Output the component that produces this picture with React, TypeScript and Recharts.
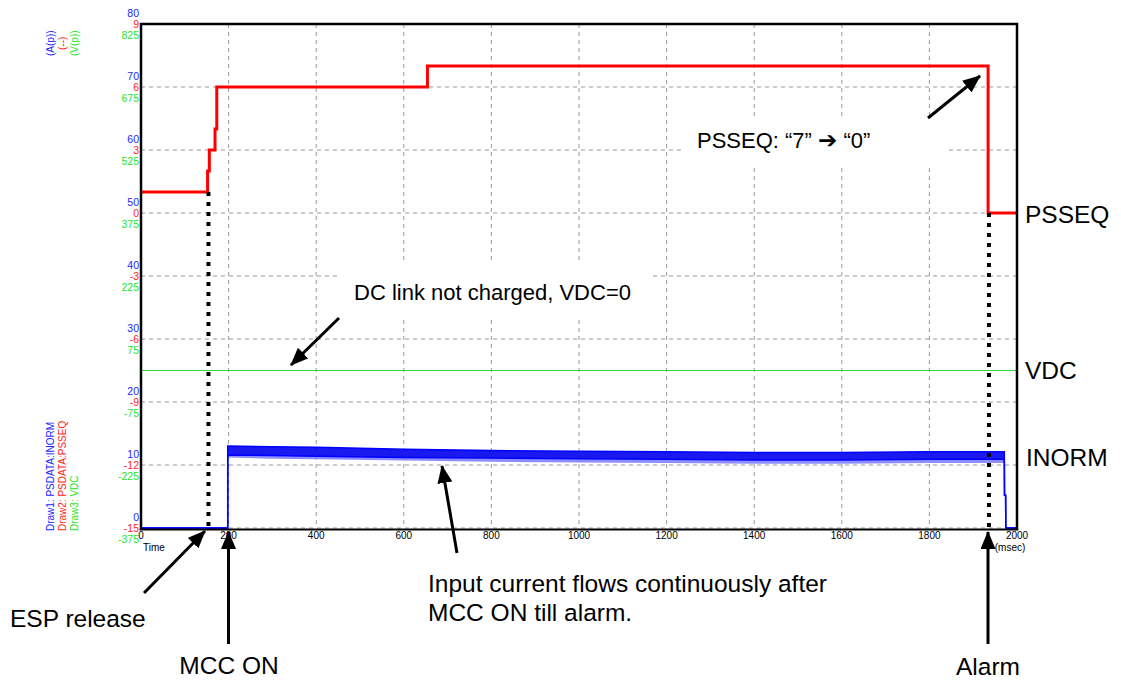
import React from 'react';
import {
  ComposedChart,
  Line,
  Area,
  XAxis,
  YAxis,
  CartesianGrid,
  ReferenceLine,
} from 'recharts';

// ---- tick labels ----
const timeTicks = [0, 200, 400, 600, 800, 1000, 1200, 1400, 1600, 1800, 2000];
const inormTicks = [0, 10, 20, 30, 40, 50, 60, 70, 80];
const psseqTicks = [-15, -12, -9, -6, -3, 0, 3, 6, 9];
const vdcTicks = [-375, -225, -75, 75, 225, 375, 525, 675, 825];

// ---- PSSEQ (red, step) ----
const psseqTime = [0, 152, 156, 169, 173, 654, 1934, 2000];
const psseqValue = [1, 2, 3, 4, 6, 7, 0, 0];

// ---- INORM (blue, oscillating band envelope) ----
const inormTime = [0, 198, 198, 300, 400, 600, 800, 1000, 1200, 1400, 1600, 1800, 1971, 1971.5, 1974, 1974.5, 2000];
const inormHigh = [0, 0, 13.0, 12.9, 12.8, 12.5, 12.3, 12.2, 12.1, 12.0, 12.0, 12.1, 12.1, 5.2, 5.2, 0, 0];
const inormLow = [0, 0, 11.6, 11.5, 11.4, 11.2, 11.1, 11.0, 10.9, 10.8, 10.8, 10.9, 10.9, 5.2, 5.2, 0, 0];
const inormSpikeLow = [0, 0, 11.2, 11.0, 10.9, 10.7, 10.5, 10.4, 10.3, 10.2, 10.2, 10.3, 10.3, 5.2, 5.2, 0, 0];

// ---- VDC (green) ----
const vdcTime = [0, 2000];
const vdcValue = [0, 0];

// ---- dotted event markers (time, PSSEQ level at top) ----
const markerTime = [154, 1936];
const markerTop = [1, 0];

const psseqData = psseqTime.map((t, i) => ({ t, v: psseqValue[i] }));
const inormData = inormTime.map((t, i) => ({
  t,
  range: [inormLow[i], inormHigh[i]],
  spike: [inormSpikeLow[i], inormLow[i]],
}));
const vdcData = vdcTime.map((t, i) => ({ t, v: vdcValue[i] }));

const BLUE = '#2323ff';
const RED = '#ff2424';
const GREEN = '#25e625';
const TICK_FONT = '"Liberation Sans", Arial, sans-serif';
const ANN_FONT = '"Liberation Sans", Arial, sans-serif';

const LeftTick = (props: any) => {
  const { x, y, payload } = props;
  const i = inormTicks.indexOf(payload.value);
  return (
    <g fontFamily={TICK_FONT} fontSize={10.5} textAnchor="end">
      <text x={x} y={y - 7} fill={BLUE}>{inormTicks[i]}</text>
      <text x={x} y={y + 3.8} fill={RED}>{psseqTicks[i]}</text>
      <text x={x} y={y + 14.8} fill={GREEN}>{vdcTicks[i]}</text>
    </g>
  );
};

const BottomTick = (props: any) => {
  const { x, y, payload } = props;
  return (
    <text x={x} y={y + 9} textAnchor="middle" fontFamily={TICK_FONT} fontSize={10} fill="#000">
      {payload.value}
    </text>
  );
};

const Arrow = ({ x1, y1, x2, y2 }: { x1: number; y1: number; x2: number; y2: number }) => (
  <line x1={x1} y1={y1} x2={x2} y2={y2} stroke="#000" strokeWidth={3} markerEnd="url(#ah)" />
);

export default function App() {
  return (
    <div style={{ position: 'absolute', left: 0, top: 0, width: 1121, height: 682, background: '#fff', overflow: 'hidden' }}>
      <ComposedChart
        width={1121}
        height={682}
        margin={{ top: 24, right: 104, bottom: 124, left: 81 }}
      >
        <CartesianGrid
          yAxisId="A"
          stroke="#9a9a9a"
          strokeDasharray="4 4"
        />
        <XAxis
          dataKey="t"
          type="number"
          domain={[0, 2000]}
          ticks={timeTicks}
          height={30}
          allowDuplicatedCategory={false}
          axisLine={false}
          tickLine={false}
          tickSize={0}
          tickMargin={2}
          tick={<BottomTick />}
          interval={0}
        />
        <YAxis
          yAxisId="A"
          type="number"
          domain={[0, 80]}
          ticks={inormTicks}
          width={60}
          axisLine={false}
          tickLine={false}
          tickSize={0}
          tickMargin={2}
          tick={<LeftTick />}
          interval={0}
        />
        <YAxis yAxisId="P" type="number" domain={[-15, 9]} hide />
        <YAxis yAxisId="V" type="number" domain={[-375, 825]} hide />

        <Line
          yAxisId="V"
          data={vdcData}
          dataKey="v"
          type="linear"
          stroke="#2bd82b"
          strokeWidth={1}
          dot={false}
          isAnimationActive={false}
        />
        <Line
          yAxisId="P"
          data={psseqData}
          dataKey="v"
          type="stepAfter"
          stroke="#ff0000"
          strokeWidth={3}
          dot={false}
          isAnimationActive={false}
        />
        <Area
          yAxisId="A"
          data={inormData}
          dataKey="spike"
          type="linear"
          stroke="none"
          fill="#7070ff"
          fillOpacity={0.8}
          dot={false}
          activeDot={false}
          isAnimationActive={false}
        />
        <Area
          yAxisId="A"
          data={inormData}
          dataKey="range"
          type="linear"
          stroke="#0000ff"
          strokeWidth={1.5}
          fill="#0000ee"
          fillOpacity={0.9}
          dot={false}
          activeDot={false}
          isAnimationActive={false}
        />
        {markerTime.map((t, i) => (
          <ReferenceLine
            key={i}
            yAxisId="P"
            segment={[
              { x: t, y: markerTop[i] },
              { x: t, y: -15 },
            ]}
            stroke="#000"
            strokeWidth={4}
            strokeDasharray="4 6"
            ifOverflow="visible"
          />
        ))}
      </ComposedChart>

      <svg
        width={1121}
        height={682}
        style={{ position: 'absolute', left: 0, top: 0, pointerEvents: 'none' }}
      >
        <defs>
          <marker id="ah" markerUnits="userSpaceOnUse" markerWidth={18} markerHeight={15} refX={17} refY={7.5} orient="auto">
            <path d="M0,0 L18,7.5 L0,15 z" fill="#000" />
          </marker>
        </defs>

        {/* plot frame */}
        <path d="M141,530 L141,24 L1017,24 L1017,530" fill="none" stroke="#000" strokeWidth={2.5} />
        <line x1={139.75} y1={529.6} x2={1018.25} y2={529.6} stroke="#000" strokeWidth={2} />

        {/* axis unit labels */}
        <g fontFamily={TICK_FONT} fontSize={10}>
          <text transform="translate(54,56) rotate(-90)" fill={BLUE}>(A(p))</text>
          <text transform="translate(66,50) rotate(-90)" fill={RED}>(--)</text>
          <text transform="translate(78,56) rotate(-90)" fill={GREEN}>(V(p))</text>
          <text transform="translate(54,531) rotate(-90)" fill={BLUE}>Draw1: PSDATA:INORM</text>
          <text transform="translate(66,531) rotate(-90)" fill={RED}>Draw2: PSDATA:PSSEQ</text>
          <text transform="translate(78,531) rotate(-90)" fill={GREEN}>Draw3: VDC</text>
          <text x={143} y={551} fill="#000">Time</text>
          <text x={1010} y={551} fill="#000" textAnchor="middle">(msec)</text>
        </g>

        {/* white boxes behind in-plot annotations */}
        <rect x={685} y={117} width={263} height={51} fill="#fff" />
        <rect x={338} y={262} width={312} height={58} fill="#fff" />

        <g fontFamily={ANN_FONT} fill="#000">
          <text x={697} y={148} fontSize={22}>
            PSSEQ: “7” <tspan fontFamily='"DejaVu Sans", sans-serif' fontSize={23}>➔</tspan> “0”
          </text>
          <text x={354} y={300} fontSize={22}>DC link not charged, VDC=0</text>
          <g fontSize={24.5}>
            <text x={1025} y={223}>PSSEQ</text>
            <text x={1025} y={379}>VDC</text>
            <text x={1026} y={466}>INORM</text>
            <text x={428} y={592}>Input current flows continuously after</text>
            <text x={428} y={621}>MCC ON till alarm.</text>
            <text x={10} y={627}>ESP release</text>
            <text x={229} y={674} textAnchor="middle">MCC ON</text>
            <text x={988} y={675} textAnchor="middle">Alarm</text>
          </g>
        </g>

        <Arrow x1={928} y1={118} x2={980} y2={76} />
        <Arrow x1={339} y1={318} x2={291} y2={365} />
        <Arrow x1={457} y1={553} x2={442} y2={466} />
        <Arrow x1={144} y1={593} x2={205} y2={531} />
        <Arrow x1={228.5} y1={644} x2={228.5} y2={532} />
        <Arrow x1={988} y1={644} x2={988} y2={532} />
      </svg>
    </div>
  );
}
